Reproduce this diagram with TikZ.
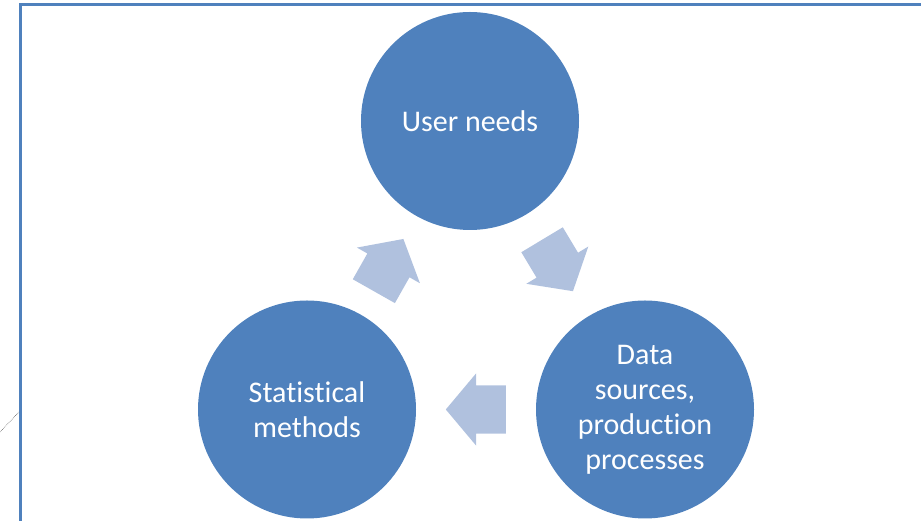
\documentclass[tikz,border=0pt]{standalone}
\usepackage{fontspec}
\setmainfont{Carlito}[Ligatures=NoCommon]
\usetikzlibrary{positioning,calc,shapes.arrows}
\definecolor{cycleblue}{HTML}{4F81BD}
\definecolor{arrowblue}{HTML}{B0C1DE}
\tikzset{stage/.style = {circle,fill=cycleblue,minimum size=218pt,inner sep=0pt,text=white,align=center,font=\fontsize{30}{35}\selectfont},
         flow/.style = {single arrow,fill=arrowblue,anchor=tail,minimum height=60pt,inner xsep=0pt,inner ysep=24pt,single arrow head extend=12pt,single arrow tip angle=100}}

\begin{document}
\begin{tikzpicture}[x=1pt,y=1pt]
    \useasboundingbox (0,0) rectangle (921,521);
    % frame
    \draw [cycleblue,line width=3pt] (20,0) -- (20,516) -- (921,516);
    \coordinate (edgeA) at (0,89);
    \coordinate (edgeB) at (19,109);
    \draw [densely dotted,gray!70!black,line width=0.6pt] (edgeA) -- (edgeB);
    % stages
    \node [stage] (user) at (470,400) {User needs};
    \node [stage] (stat) at (307,111.5) {Statistical\\methods};
    \node [stage] (data) at (645,111.5) {Data\\sources,\\production\\processes};
    % arrows between stages, tail 30pt behind the midpoint
    \node [flow,rotate=-59] (user2data) at ($(user)!0.5!(data)!30pt!(user)$) {};
    \node [flow,rotate=180] (data2stat) at ($(data)!0.5!(stat)!30pt!(data)$) {};
    \node [flow,rotate=60.5] (stat2user) at ($(stat)!0.5!(user)!30pt!(stat)$) {};
\end{tikzpicture}
\end{document}
